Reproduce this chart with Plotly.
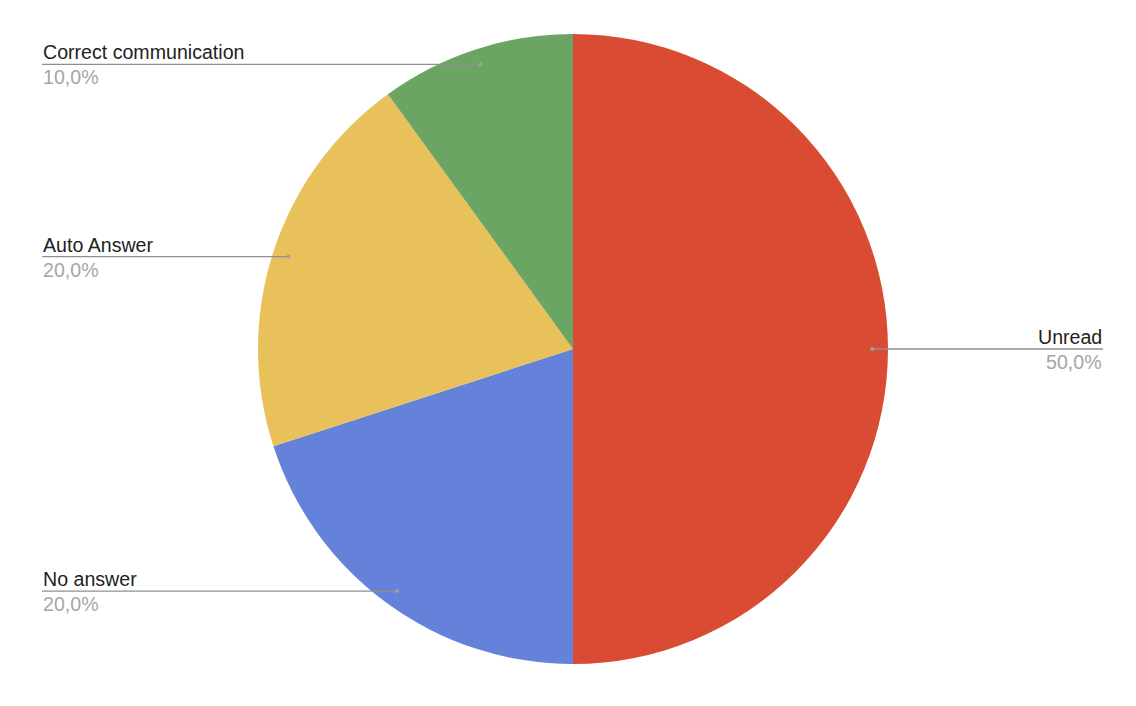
import math
import plotly.graph_objects as go

labels = ["Unread", "No answer", "Auto Answer", "Correct communication"]
values = [50, 20, 20, 10]
colors = ["#D94C33", "#6582DB", "#E8C15A", "#6AA564"]
pct_labels = ["50,0%", "20,0%", "20,0%", "10,0%"]

W, H = 1136, 706
cx, cy, R = 573, 349, 315
left_x, right_x = 42, 1103
FONT = "Liberation Sans, Arial, Helvetica, sans-serif"

fig = go.Figure(go.Pie(
    labels=labels, values=values, sort=False, direction="clockwise", rotation=0,
    marker=dict(colors=colors, line=dict(width=0)),
    textinfo="none", hoverinfo="label+percent", showlegend=False,
    domain=dict(x=[(cx - R) / W, (cx + R) / W], y=[1 - (cy + R) / H, 1 - (cy - R) / H]),
))

total = sum(values)
cum = 0
shapes, annotations = [], []
for lab, v, p in zip(labels, values, pct_labels):
    mid = (cum + v / 2) / total * 2 * math.pi
    cum += v
    px = cx + 0.95 * R * math.sin(mid)
    py = cy - 0.95 * R * math.cos(mid)
    right = math.sin(mid) > 0
    ex = right_x if right else left_x
    to_paper = lambda x, y: (x / W, 1 - y / H)
    x0, y0 = to_paper(px, py)
    x1, _ = to_paper(ex, py)
    shapes.append(dict(type="line", xref="paper", yref="paper", x0=x0, y0=y0, x1=x1, y1=y0,
                       line=dict(color="#8f8f8f", width=1.3)))
    shapes.append(dict(type="circle", xref="paper", yref="paper",
                       x0=(px - 2) / W, x1=(px + 2) / W, y0=1 - (py + 2) / H, y1=1 - (py - 2) / H,
                       fillcolor="#a0a0a0", line=dict(width=0)))
    anchor = "right" if right else "left"
    annotations.append(dict(xref="paper", yref="paper", x=x1, y=y0, text=lab, showarrow=False,
                            xanchor=anchor, yanchor="middle", yshift=12, xshift=(1 if right else -1),
                            font=dict(family=FONT, size=19.6, color="#222222")))
    annotations.append(dict(xref="paper", yref="paper", x=x1, y=y0, text=p, showarrow=False,
                            xanchor=anchor, yanchor="middle", yshift=-13, xshift=(1 if right else -1),
                            font=dict(family=FONT, size=19.6, color="#a6a6a6")))

fig.update_layout(width=W, height=H, margin=dict(l=0, r=0, t=0, b=0),
                  paper_bgcolor="white", plot_bgcolor="white",
                  shapes=shapes, annotations=annotations)
fig.write_html("out.html", config={"displayModeBar": False},
               post_script="document.body.style.margin='0';")
